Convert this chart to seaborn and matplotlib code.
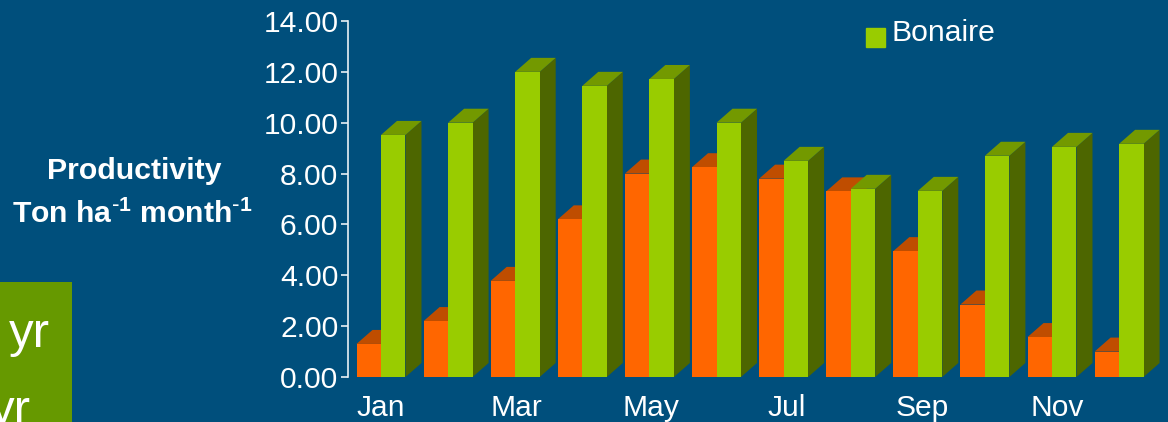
import pandas as pd
import matplotlib.pyplot as plt
import seaborn as sns
from matplotlib.legend_handler import HandlerPatch
from matplotlib.patches import Polygon, Rectangle

# Data
months = ["Jan", "Feb", "Mar", "Apr", "May", "Jun", "Jul", "Aug", "Sep", "Oct", "Nov", "Dec"]
other_site = [1.3, 2.2, 3.78, 6.2, 8.0, 8.25, 7.8, 7.3, 4.95, 2.85, 1.57, 1.0]
bonaire = [9.52, 10.0, 12.0, 11.45, 11.72, 10.0, 8.5, 7.4, 7.32, 8.7, 9.05, 9.17]
shown_months = ["Jan", "Mar", "May", "Jul", "Sep", "Nov"]
y_ticks = [0, 2, 4, 6, 8, 10, 12, 14]

BG = "#004F7C"
FRONT = {"Other": "#FF6600", "Bonaire": "#99CC00"}
TOP = {"Other": "#BF4D00", "Bonaire": "#739900"}
SIDE = {"Other": "#993D00", "Bonaire": "#4D6600"}

W, H = 1168, 422

df = pd.DataFrame({
    "month": months * 2,
    "productivity": other_site + bonaire,
    "site": ["Other"] * 12 + ["Bonaire"] * 12,
})

sns.set_theme(style="white")
plt.rcParams["font.family"] = ["Liberation Sans", "DejaVu Sans"]
plt.rcParams["mathtext.default"] = "regular"

fig = plt.figure(figsize=(W / 100, H / 100), dpi=100, facecolor=BG)
ax = fig.add_axes([348 / W, (H - 377) / H, (W - 348) / W, 356 / H], facecolor=BG)

sns.barplot(data=df, x="month", y="productivity", hue="site", hue_order=["Other", "Bonaire"],
            palette=FRONT, width=0.73, saturation=1, legend=False, ax=ax)

# x scale: 67.1 px per month, Jan centred at 381 px
ax.set_xlim((348 - 381) / 67.1, (W - 381) / 67.1)
ax.set_ylim(0, 14)

# Fake 3D: side and top faces built from each bar
depth_x = 16 / 67.1
depth_y = 14 / (356 / 14)
for level, (site, container) in enumerate(zip(["Other", "Bonaire"], ax.containers)):
    for bar in container:
        x0, x1, h = bar.get_x(), bar.get_x() + bar.get_width(), bar.get_height()
        bar.set_zorder(2 * level + 2)
        bar.set_linewidth(0)
        ax.add_patch(Polygon([(x1, 0), (x1 + depth_x, depth_y), (x1 + depth_x, h + depth_y), (x1, h)],
                             facecolor=SIDE[site], edgecolor="none", zorder=2 * level + 1))
        ax.add_patch(Polygon([(x0, h), (x0 + depth_x, h + depth_y), (x1 + depth_x, h + depth_y), (x1, h)],
                             facecolor=TOP[site], edgecolor="none", zorder=2 * level + 1))

ax.set_xlabel("")
ax.set_ylabel("")
# the original labels drift slightly right of the bars
ax.set_xticks([months.index(m) * 1.0075 for m in shown_months], shown_months)
ax.set_yticks(y_ticks, [f"{t:.2f}" for t in y_ticks])
ax.tick_params(axis="x", length=0, pad=12, labelsize=21.6, labelcolor="white")
ax.tick_params(axis="y", left=True, length=5, width=1.2, color="#E8F0F5", pad=2, labelsize=21.6, labelcolor="white")

sns.despine(ax=ax, top=True, right=True, bottom=True)
ax.spines["left"].set_color("#E8F0F5")
ax.spines["left"].set_linewidth(1.2)


def low_square(legend, orig_handle, xdescent, ydescent, width, height, fontsize):
    return Rectangle((-xdescent, -ydescent - 5), width, width)


# Legend
fig.legend(handles=[Rectangle((0, 0), 1, 1, color=FRONT["Bonaire"])], labels=["Bonaire"],
           handler_map={Rectangle: HandlerPatch(patch_func=low_square)},
           loc="center left", bbox_to_anchor=(848 / W, 1 - 33 / H), frameon=False,
           handlelength=0.62, handleheight=0.62, handletextpad=0.22, borderpad=0.1,
           fontsize=21.7, labelcolor="white")

# Axis title
fig.text(134 / W, 1 - 179 / H, "Productivity", color="white", fontsize=21.8, fontweight="bold",
         ha="center", va="baseline")
fig.text(132 / W, 1 - 223 / H, r"Ton ha$^{\text{-}1}$ month$^{\text{-}1}$", color="white", fontsize=21.7,
         fontweight="bold", ha="center", va="baseline")

# Cropped slide box at the lower left
fig.add_artist(Rectangle((0, 0), 72 / W, (H - 282) / H, transform=fig.transFigure,
                         facecolor="#669900", edgecolor="none"))
fig.text(50 / W, 1 - 347 / H, "yr", color="white", fontsize=35.5, ha="right", va="baseline")
fig.text(31 / W, 1 - 424 / H, "yr", color="white", fontsize=35.5, ha="right", va="baseline")

fig.savefig("out.png", dpi=100, facecolor=BG)
plt.close(fig)
